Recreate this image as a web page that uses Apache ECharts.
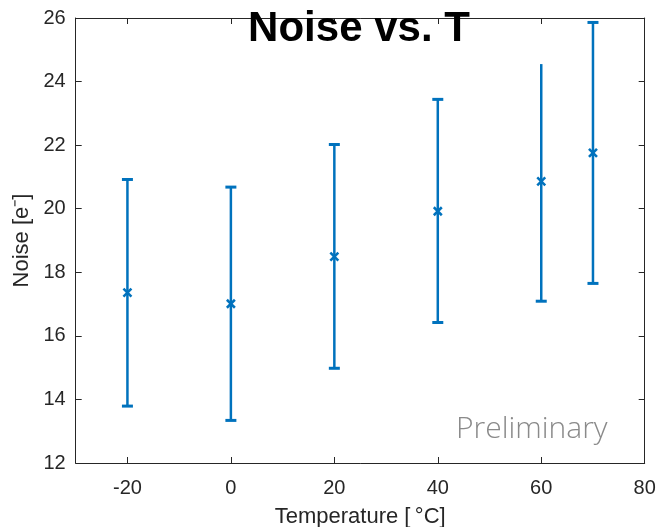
<!DOCTYPE html>
<html><head><meta charset="utf-8">
<script src="https://cdn.jsdelivr.net/npm/echarts@6/dist/echarts.min.js"></script>
<style>html,body{margin:0;padding:0;background:#fff}#c{width:656px;height:527px}</style>
</head><body><div id="c"></div>
<script>
const temps = [-20, 0, 20, 40, 60, 70];
const noise = [17.36, 17.01, 18.49, 19.92, 20.86, 21.76];
const lower = [13.79, 13.34, 14.98, 16.42, 17.09, 17.65];
const upper = [20.92, 20.68, 22.02, 23.44, 24.55, 25.86];
const topCap = [true, true, true, true, false, true];
const xTicks = [-20, 0, 20, 40, 60, 80];
const yTicks = [12, 14, 16, 18, 20, 22, 24, 26];

const blue = '#0072BD';
const axisCol = '#262626';
const font = 'Arial, "Liberation Sans", Helvetica, sans-serif';

const data = temps.map((t, i) => [t, noise[i], lower[i], upper[i], topCap[i] ? 1 : 0]);

const chart = echarts.init(document.getElementById('c'), null, {renderer: 'canvas'});
const xCommon = {
  type: 'value', min: -30, max: 80,
  axisLine: {show: true, onZero: false, lineStyle: {color: axisCol, width: 1}},
  axisTick: {show: true, inside: true, length: 6, customValues: xTicks, lineStyle: {color: axisCol}},
  splitLine: {show: false}
};
const yCommon = {
  type: 'value', min: 12, max: 26, interval: 2,
  axisLine: {show: true, onZero: false, lineStyle: {color: axisCol, width: 1}},
  axisTick: {show: true, inside: true, length: 6, lineStyle: {color: axisCol}},
  splitLine: {show: false}
};
chart.setOption({
  animation: false,
  title: {
    text: 'Noise vs. T', left: 354, top: 3, textAlign: 'center',
    textStyle: {fontFamily: font, fontWeight: 'bold', fontSize: 42, color: '#000'}
  },
  grid: {left: 75.7, right: 11.3, top: 18, bottom: 64, containLabel: false, outerBoundsMode: 'none'},
  xAxis: [
    Object.assign({}, xCommon, {
      position: 'bottom',
      name: 'Temperature [\u2009°C]', nameLocation: 'middle', nameGap: 43,
      nameTextStyle: {fontFamily: font, fontSize: 22, color: axisCol},
      axisLabel: {show: true, customValues: xTicks, margin: 15, fontFamily: font, fontSize: 20, color: axisCol}
    }),
    Object.assign({}, xCommon, {position: 'top', axisLabel: {show: false}})
  ],
  yAxis: [
    Object.assign({}, yCommon, {
      position: 'left',
      name: 'Noise [e\u207B]', nameLocation: 'middle', nameGap: 32,
      nameTextStyle: {fontFamily: font, fontSize: 22, color: axisCol},
      axisLabel: {show: true, margin: 10, fontFamily: font, fontSize: 20, color: axisCol}
    }),
    Object.assign({}, yCommon, {position: 'right', axisLabel: {show: false}})
  ],
  graphic: [{
    type: 'text', left: 456, top: 414,
    style: {text: 'Preliminary', fontFamily: '"Open Sans", sans-serif', fontWeight: 300, fontSize: 30, fill: '#8a8a8a'}
  }],
  series: [{
    type: 'custom',
    xAxisIndex: 0, yAxisIndex: 0,
    data: data,
    renderItem: function (params, api) {
      const x = api.value(0);
      const c = api.coord([x, api.value(1)]);
      const lo = api.coord([x, api.value(2)]);
      const hi = api.coord([x, api.value(3)]);
      const capW = 5.5, m = 4;
      const st = {stroke: blue, lineWidth: 2.5, fill: null};
      const children = [
        {type: 'line', shape: {x1: lo[0], y1: lo[1], x2: hi[0], y2: hi[1]}, style: st},
        {type: 'line', shape: {x1: lo[0] - capW, y1: lo[1], x2: lo[0] + capW, y2: lo[1]}, style: {stroke: blue, lineWidth: 3}},
        {type: 'line', shape: {x1: c[0] - m, y1: c[1] - m, x2: c[0] + m, y2: c[1] + m}, style: st},
        {type: 'line', shape: {x1: c[0] - m, y1: c[1] + m, x2: c[0] + m, y2: c[1] - m}, style: st}
      ];
      if (api.value(4)) {
        children.push({type: 'line', shape: {x1: hi[0] - capW, y1: hi[1], x2: hi[0] + capW, y2: hi[1]}, style: {stroke: blue, lineWidth: 3}});
      }
      return {type: 'group', children: children};
    },
    z: 5
  }]
});
</script></body></html>
